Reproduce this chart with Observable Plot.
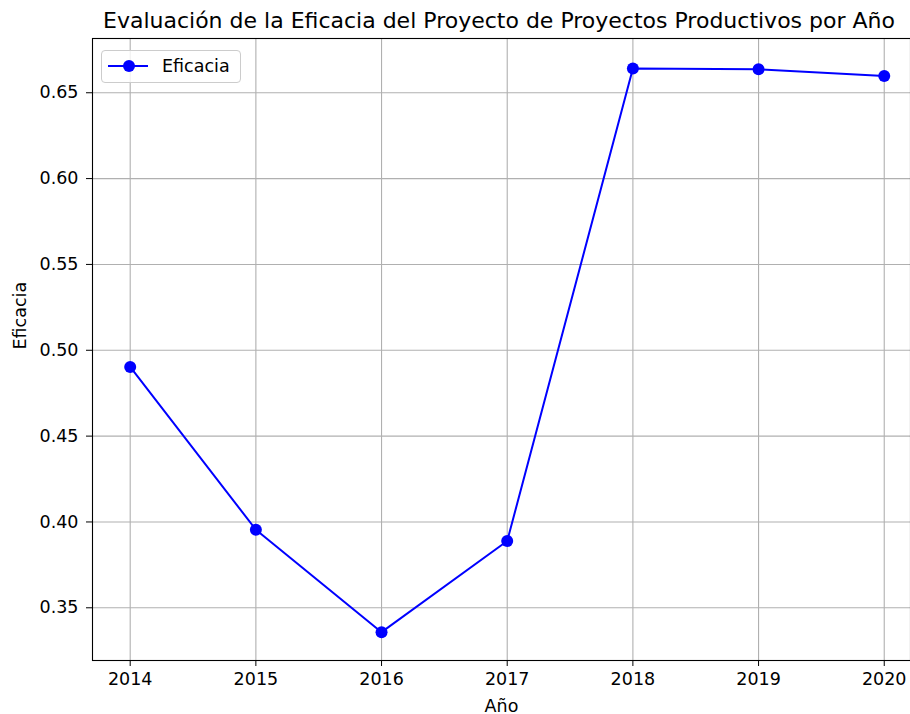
<!DOCTYPE html>
<html>
<head>
<meta charset="utf-8">
<script src="https://cdn.jsdelivr.net/npm/d3@7"></script>
<script src="https://cdn.jsdelivr.net/npm/@observablehq/plot@0.6"></script>
<style>
  html, body { margin: 0; padding: 0; background: #fff; }
  body { width: 910px; height: 714px; position: relative; overflow: hidden; font-family: "DejaVu Sans", sans-serif; }
  #title { height: 30px; position: relative; }
  #title span { position: absolute; left: 499px; top: 10px; transform: translateX(-50%); white-space: nowrap; font-size: 22px; color: #000; line-height: 1; }
  #legend { position: absolute; left: 101px; top: 50px; width: 140px; height: 33px; box-sizing: border-box; border: 1px solid #cccccc; border-radius: 4px; background: rgba(255,255,255,0.8); }
  #legend svg { position: absolute; left: 0; top: 0; }
  #legend span { position: absolute; left: 60px; top: 7px; font-size: 17.5px; line-height: 1; color: #000; }
</style>
</head>
<body>
<div id="title"><span>Evaluación de la Eficacia del Proyecto de Proyectos Productivos por Año</span></div>
<div id="chart"></div>
<div id="legend"><svg width="60" height="33"><line x1="6" y1="15" x2="46" y2="15" stroke="#0000ff" stroke-width="2"/><circle cx="27" cy="15" r="6" fill="#0000ff"/></svg><span>Eficacia</span></div>
<script>
const years = [2014, 2015, 2016, 2017, 2018, 2019, 2020];
const eficacia = [0.4903, 0.3955, 0.3358, 0.3889, 0.6641, 0.6637, 0.6598];
const yTicks = [0.35, 0.40, 0.45, 0.50, 0.55, 0.60, 0.65];

const data = years.map((y, i) => ({anio: y, eficacia: eficacia[i]}));

const chart = Plot.plot({
  width: 910,
  height: 684,
  marginTop: 8,
  marginBottom: 54,
  marginLeft: 92,
  marginRight: 0,
  style: {fontFamily: "DejaVu Sans, sans-serif", fontSize: "17.5px", color: "#000", background: "#fff"},
  x: {domain: [2013.70, 2020.209], label: null},
  y: {domain: [0.3193, 0.6816], label: null},
  marks: [
    Plot.gridX(years, {stroke: "#b0b0b0", strokeOpacity: 1, strokeWidth: 1.1}),
    Plot.gridY(yTicks, {stroke: "#b0b0b0", strokeOpacity: 1, strokeWidth: 1.1}),
    Plot.frame({stroke: "#000", strokeWidth: 1.1}),
    Plot.axisX({ticks: years, tickFormat: "d", tickSize: 6, tickPadding: 6, fontSize: 17.5, label: null}),
    Plot.axisY({ticks: yTicks, tickFormat: ".2f", tickSize: 6, tickPadding: 8, fontSize: 17.5, label: null}),
    Plot.text(["Año"], {frameAnchor: "bottom", dy: 51, fontSize: 17.5, fill: "#000"}),
    Plot.text(["Eficacia"], {frameAnchor: "left", dx: -72, rotate: -90, fontSize: 17.5, fill: "#000"}),
    Plot.line(data, {x: "anio", y: "eficacia", stroke: "#0000ff", strokeWidth: 2}),
    Plot.dot(data, {x: "anio", y: "eficacia", r: 6, fill: "#0000ff", stroke: "none"})
  ]
});
document.getElementById("chart").appendChild(chart);
</script>
</body>
</html>
